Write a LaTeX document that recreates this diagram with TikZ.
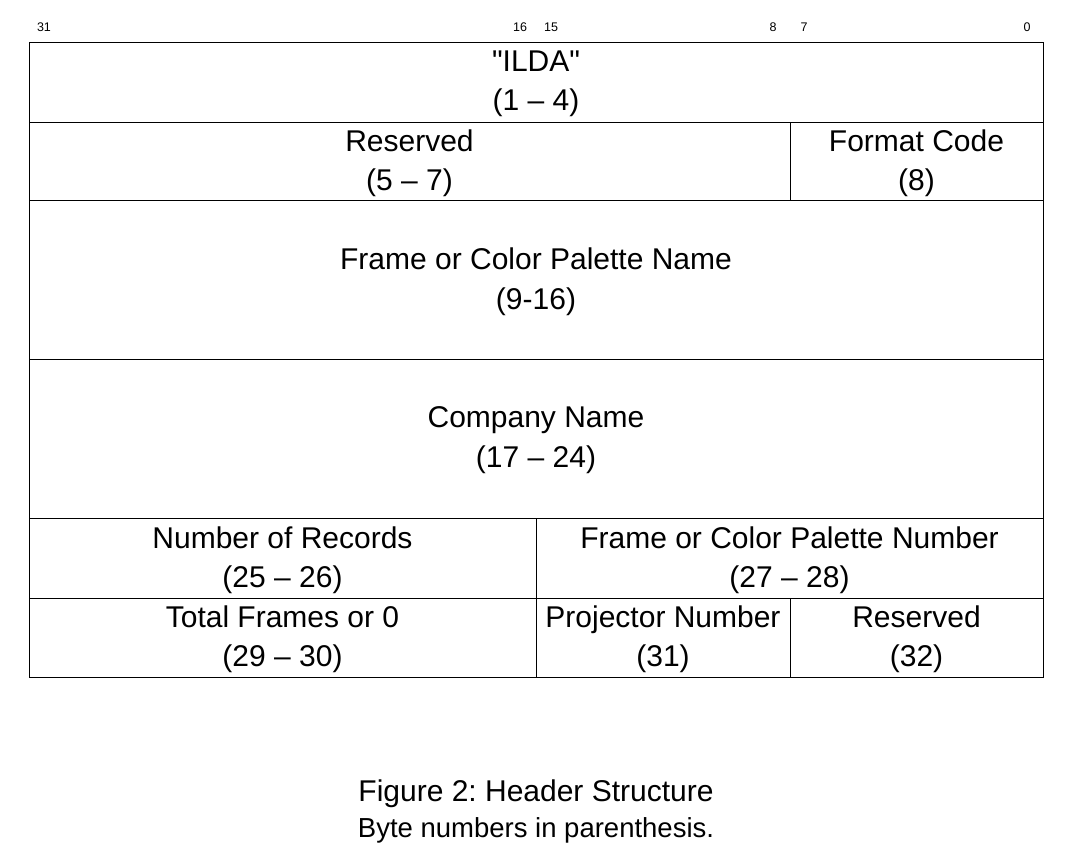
\documentclass[tikz,border=0pt]{standalone}
\usepackage{fontspec}
\setmainfont{Liberation Sans}[Ligatures=TeXOff]
\begin{document}
\frenchspacing
\begin{tikzpicture}[x=1pt,y=-1pt,
  field/.style={draw=black,line width=1pt},
  fieldtext/.style={align=center,inner sep=0pt,font=\fontsize{30}{39.5}\selectfont},
  bitnum/.style={inner sep=0pt,font=\fontsize{12.5}{14}\selectfont},
  captionA/.style={inner sep=0pt,font=\fontsize{30}{34}\selectfont},
  captionB/.style={inner sep=0pt,font=\fontsize{27.5}{30}\selectfont}]
\useasboundingbox[fill=white] (0,0) rectangle (1086,862);
% bit positions along the top edge
\node[bitnum] (b31) at (44,27) {31};
\node[bitnum] (b16) at (520,27) {16};
\node[bitnum] (b15) at (551,27) {15};
\node[bitnum] (b8)  at (773,27) {8};
\node[bitnum] (b7)  at (804,27) {7};
\node[bitnum] (b0)  at (1027,27) {0};
% header fields, one rectangle per field
\draw[field] (29,42) rectangle (1043,122);
\draw[field] (29,122) rectangle (790,200);
\draw[field] (790,122) rectangle (1043,200);
\draw[field] (29,200) rectangle (1043,359);
\draw[field] (29,359) rectangle (1043,518);
\draw[field] (29,518) rectangle (536,598);
\draw[field] (536,518) rectangle (1043,598);
\draw[field] (29,598) rectangle (536,677);
\draw[field] (536,598) rectangle (790,677);
\draw[field] (790,598) rectangle (1043,677);
% field labels
\node[fieldtext] (ilda) at (536,84) {"ILDA"\\(1 – 4)};
\node[fieldtext] (res1) at (409.5,163) {Reserved\\(5 – 7)};
\node[fieldtext] (fmt) at (916.5,163) {Format Code\\(8)};
\node[fieldtext] (name) at (536,281.5) {Frame or Color Palette Name\\(9-16)};
\node[fieldtext] (comp) at (536,440) {Company Name\\(17 – 24)};
\node[fieldtext] (nrec) at (282.5,560) {Number of Records\\(25 – 26)};
\node[fieldtext] (fnum) at (789.5,560) {Frame or Color Palette Number\\(27 – 28)};
\node[fieldtext] (tot) at (282.5,639) {Total Frames or 0\\(29 – 30)};
\node[fieldtext] (proj) at (663,639) {Projector Number\\(31)};
\node[fieldtext] (res2) at (916.5,639) {Reserved\\(32)};
% caption
\node[captionA] (cap1) at (536,794) {Figure 2: Header Structure};
\node[captionB] (cap2) at (536,830) {Byte numbers in parenthesis.};
\end{tikzpicture}
\end{document}
